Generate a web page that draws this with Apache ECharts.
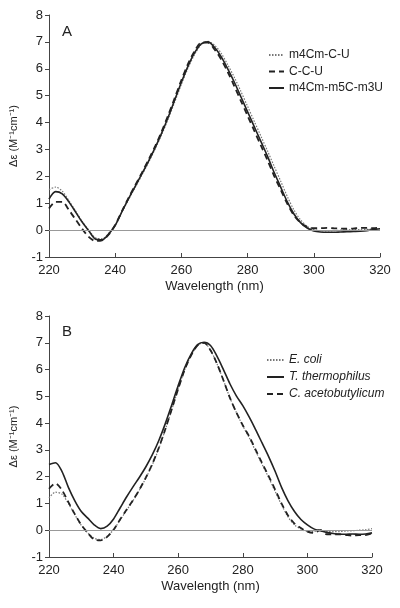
<!DOCTYPE html>
<html>
<head>
<meta charset="utf-8">
<script src="https://cdn.jsdelivr.net/npm/echarts@6/dist/echarts.min.js"></script>
<style>html,body{margin:0;padding:0;background:#fff}#c{width:400px;height:608px}</style>
</head>
<body>
<div id="c"></div>
<script>
// Wavelength grid (nm), every 2 nm from 220 to 320
const wavelength = [220,222,224,226,228,230,232,234,236,238,240,242,244,246,248,250,252,254,256,258,260,262,264,266,268,270,272,274,276,278,280,282,284,286,288,290,292,294,296,298,300,302,304,306,308,310,312,314,316,318,320];

// Panel A
const nameA1 = "m4Cm-C-U";
const valA1 = [1.5,1.6,1.45,1.1,0.72,0.33,0.0,-0.28,-0.32,-0.12,0.17,0.66,1.13,1.58,2.03,2.5,3.0,3.54,4.13,4.77,5.42,6.03,6.53,6.9,7.02,6.88,6.58,6.15,5.68,5.15,4.6,4.05,3.5,2.95,2.38,1.82,1.25,0.75,0.38,0.14,0.02,-0.02,-0.03,-0.02,0.0,0.01,0.02,0.02,0.03,0.04,0.06];
const nameA2 = "C-C-U";
const valA2 = [0.8,1.05,1.05,0.75,0.4,0.05,-0.25,-0.4,-0.38,-0.17,0.19,0.7,1.19,1.66,2.12,2.6,3.1,3.66,4.27,4.92,5.58,6.18,6.66,6.97,6.97,6.72,6.35,5.88,5.35,4.8,4.25,3.7,3.15,2.6,2.02,1.5,0.98,0.55,0.27,0.12,0.07,0.07,0.08,0.07,0.06,0.05,0.06,0.08,0.08,0.07,0.1];
const nameA3 = "m4Cm-m5C-m3U";
const valA3 = [1.15,1.43,1.35,1.05,0.68,0.3,-0.02,-0.33,-0.36,-0.15,0.18,0.68,1.16,1.62,2.08,2.55,3.05,3.6,4.2,4.85,5.5,6.1,6.6,6.93,7.0,6.8,6.45,6.0,5.5,4.95,4.4,3.85,3.3,2.75,2.15,1.6,1.05,0.6,0.28,0.08,-0.03,-0.07,-0.08,-0.08,-0.07,-0.06,-0.05,-0.04,-0.02,0.02,0.05];

// Panel B
const nameB1 = "E. coli";
const valB1 = [1.2,1.42,1.35,1.0,0.58,0.18,-0.1,-0.3,-0.35,-0.22,0.02,0.38,0.74,1.1,1.5,1.95,2.45,3.05,3.75,4.5,5.27,5.98,6.52,6.9,7.0,6.72,6.22,5.6,4.95,4.4,3.9,3.45,2.95,2.45,1.97,1.45,0.95,0.5,0.2,0.05,-0.05,-0.05,0.02,-0.05,-0.05,-0.05,-0.03,-0.02,0.0,0.02,0.06];
const nameB2 = "T. thermophilus";
const valB2 = [2.45,2.52,2.2,1.6,1.1,0.7,0.45,0.2,0.06,0.15,0.42,0.83,1.24,1.62,1.98,2.37,2.82,3.35,3.98,4.68,5.4,6.07,6.58,6.93,7.02,6.9,6.5,6.0,5.47,5.02,4.65,4.22,3.75,3.25,2.75,2.2,1.6,1.1,0.7,0.4,0.2,0.05,-0.02,-0.08,-0.12,-0.15,-0.15,-0.14,-0.15,-0.14,-0.1];
const nameB3 = "C. acetobutylicum";
const valB3 = [1.55,1.75,1.5,1.05,0.6,0.2,-0.1,-0.35,-0.38,-0.25,0.02,0.4,0.76,1.12,1.52,1.97,2.48,3.08,3.77,4.52,5.28,5.99,6.53,6.9,7.0,6.72,6.22,5.6,4.95,4.4,3.92,3.5,3.0,2.5,2.02,1.52,1.0,0.55,0.25,0.08,-0.05,-0.1,0.0,-0.15,-0.15,-0.15,-0.18,-0.2,-0.18,-0.18,-0.12];

const xTicks = [220,240,260,280,300,320];
const yTicks = [-1,0,1,2,3,4,5,6,7,8];
const xTitle = "Wavelength (nm)";
const yTitle = "Δε (M⁻¹cm⁻¹)";
const panelLabels = ["A","B"];

const pairs = v => wavelength.map((w,i)=>[w, v[i]]);
const FONT = "Liberation Sans, Arial, sans-serif";
const TXT = "#222";

function xAxisCfg(gi){
  return {type:'value', gridIndex:gi, min:xTicks[0], max:xTicks[xTicks.length-1], interval:20,
    axisLine:{onZero:false, lineStyle:{color:'#444', width:1}},
    axisTick:{inside:true, length:4, lineStyle:{color:'#444'}},
    axisLabel:{color:TXT, fontSize:13, fontFamily:FONT, margin:7},
    splitLine:{show:false},
    name:xTitle, nameLocation:'middle', nameGap:23,
    nameTextStyle:{color:TXT, fontSize:13, fontFamily:FONT}};
}
function yAxisCfg(gi){
  return {type:'value', gridIndex:gi, min:yTicks[0], max:yTicks[yTicks.length-1], interval:1,
    axisLine:{show:true, lineStyle:{color:'#444', width:1}},
    axisTick:{show:true, inside:false, length:4, lineStyle:{color:'#444'}},
    axisLabel:{color:TXT, fontSize:13, fontFamily:FONT, margin:6},
    splitLine:{show:false},
    name:yTitle, nameLocation:'middle', nameGap:30,
    nameTextStyle:{color:TXT, fontSize:11, fontFamily:FONT}};
}
const zeroLine = {silent:true, symbol:['none','none'], label:{show:false},
  lineStyle:{color:'#999', width:1, type:'solid'}, data:[{yAxis:0}], animation:false};

function lineSeries(name, vals, gi, style, extra){
  const s = {name, type:'line', xAxisIndex:gi, yAxisIndex:gi, data:pairs(vals),
    symbol:'none', smooth:0.3, lineStyle:style, itemStyle:{color:style.color}, animation:false, z:3};
  return Object.assign(s, extra||{});
}
const dotted = {color:'#777', width:1.2, type:[1.5,1.5]};
const dashed = {color:'#222', width:1.8, type:[6,4]};
const solid = {color:'#222', width:1.6, type:'solid'};

const chart = echarts.init(document.getElementById('c'), null, {renderer:'canvas'});
chart.setOption({
  backgroundColor:'#fff',
  animation:false,
  grid:[
    {left:48, right:20, top:15, height:242},
    {left:48, right:28, top:316, height:241}
  ],
  xAxis:[xAxisCfg(0), xAxisCfg(1)],
  yAxis:[yAxisCfg(0), yAxisCfg(1)],
  title:[
    {text:panelLabels[0], left:57, top:19, textStyle:{color:TXT, fontSize:15, fontWeight:'normal', fontFamily:FONT}},
    {text:panelLabels[1], left:57, top:319, textStyle:{color:TXT, fontSize:15, fontWeight:'normal', fontFamily:FONT}}
  ],
  legend:[
    {data:[nameA1,nameA2,nameA3], orient:'vertical', left:263, top:44, itemWidth:15, itemHeight:10, itemGap:4.5,
     itemStyle:{opacity:0}, textStyle:{color:TXT, fontSize:12, fontFamily:FONT}, selectedMode:false},
    {data:[nameB1,nameB2,nameB3], orient:'vertical', left:261, top:349, itemWidth:17, itemHeight:10, itemGap:5,
     itemStyle:{opacity:0}, textStyle:{color:TXT, fontSize:12, fontStyle:'italic', fontFamily:FONT}, selectedMode:false}
  ],
  series:[
    lineSeries(nameA1, valA1, 0, dotted, {markLine:zeroLine}),
    lineSeries(nameA2, valA2, 0, dashed),
    lineSeries(nameA3, valA3, 0, solid),
    lineSeries(nameB1, valB1, 1, dotted, {markLine:zeroLine}),
    lineSeries(nameB2, valB2, 1, solid),
    lineSeries(nameB3, valB3, 1, dashed)
  ]
});
</script>
</body>
</html>
